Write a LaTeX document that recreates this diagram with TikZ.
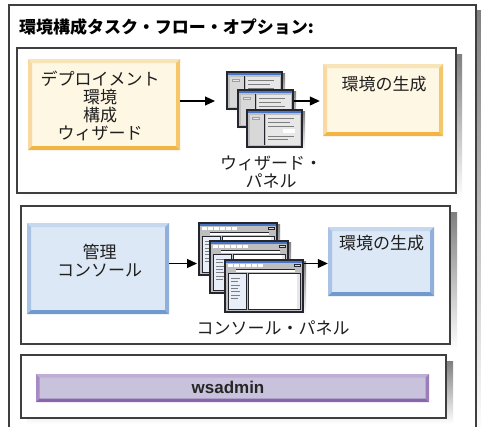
\documentclass[tikz,border=0pt]{standalone}
\usepackage{fontspec}
\setmainfont{Noto Sans CJK JP}
\newfontfamily\latinsans{Liberation Sans}
\usetikzlibrary{arrows.meta}

\definecolor{framegray}{HTML}{3F3F3F}
\definecolor{shade}{HTML}{CACACA}
\definecolor{creamfill}{HTML}{FEF7E3}
\definecolor{ytop}{HTML}{F8E4B9}
\definecolor{yleft}{HTML}{F9D9A0}
\definecolor{yright}{HTML}{F6C66B}
\definecolor{ybottom}{HTML}{F2B445}
\definecolor{bluefill}{HTML}{DCE8F5}
\definecolor{btop}{HTML}{C6D8EE}
\definecolor{bleft}{HTML}{A8C3E6}
\definecolor{bright}{HTML}{90AFDB}
\definecolor{bbottom}{HTML}{7099CF}
\definecolor{purplefill}{HTML}{C8C2DC}
\definecolor{ptop}{HTML}{BEAED4}
\definecolor{pleft}{HTML}{A88AC4}
\definecolor{pright}{HTML}{9A7DB9}
\definecolor{pbottom}{HTML}{8866AA}
\definecolor{winedge}{HTML}{25252D}
\definecolor{titleblue}{HTML}{4674C6}
\definecolor{winbody}{HTML}{BEBEBE}
\definecolor{paneA}{HTML}{D8D8D8}
\definecolor{paneB}{HTML}{E7E7E7}
\definecolor{rulegray}{HTML}{7E7E7E}
\definecolor{listblue}{HTML}{E8EFF8}

\tikzset{
  % rectangle with a four-sided bevelled rim
  bevelbox/.style n args={6}{
    shape=rectangle, inner sep=0pt, fill=#6,
    path picture={
      \path[fill=#2] (path picture bounding box.north west) -- (path picture bounding box.north east)
        -- ([xshift=-#1,yshift=-#1]path picture bounding box.north east)
        -- ([xshift=#1,yshift=-#1]path picture bounding box.north west) -- cycle;
      \path[fill=#3] (path picture bounding box.north west) -- ([xshift=#1,yshift=-#1]path picture bounding box.north west)
        -- ([xshift=#1,yshift=#1]path picture bounding box.south west) -- (path picture bounding box.south west) -- cycle;
      \path[fill=#4] (path picture bounding box.north east) -- ([xshift=-#1,yshift=-#1]path picture bounding box.north east)
        -- ([xshift=-#1,yshift=#1]path picture bounding box.south east) -- (path picture bounding box.south east) -- cycle;
      \path[fill=#5] (path picture bounding box.south west) -- ([xshift=#1,yshift=#1]path picture bounding box.south west)
        -- ([xshift=-#1,yshift=#1]path picture bounding box.south east) -- (path picture bounding box.south east) -- cycle;
    }
  },
  yellowbox/.style={bevelbox={4pt}{ytop}{yleft}{yright}{ybottom}{creamfill}},
  bluebox/.style={bevelbox={4pt}{btop}{bleft}{bright}{bbottom}{bluefill}},
  purplebox/.style={bevelbox={3.5pt}{ptop}{pleft}{pright}{pbottom}{purplefill}},
  panel/.style={draw=framegray, line width=1.3pt, fill=white, inner sep=0pt},
  jtext/.style={font=\fontsize{17}{18}\selectfont, align=center, inner sep=0pt, text=black!88},
  arr/.style={draw=black, line width=1.2pt, -{Triangle[length=10pt,width=9pt]}},
  % small wizard dialog
  wizwin/.pic={
    \fill[shade] (2,2) rectangle (59,41);
    \fill[winedge] (0,0) rectangle (57,39);
    \fill[titleblue] (1.6,1.6) rectangle (55.4,3.8);
    \fill[winbody] (1.6,3.8) rectangle (55.4,37.4);
    \fill[paneA] (3.5,5.5) rectangle (17.5,35.5);
    \fill[winedge] (18.2,5) rectangle (19.4,36);
    \fill[paneB] (20,5.5) rectangle (53.5,35.5);
    \fill[rulegray!75] (6,7.5) rectangle (13.5,11);
    \fill[paneB] (7,8.8) rectangle (12.5,9.6);
    \foreach \yy/\len in {9/26,13.3/22,17.3/26,27.3/26,30.7/20}
      \draw[rulegray, line width=0.7pt] (22,\yy) -- (22+\len,\yy);
    \fill[#1] (37,20.3) rectangle (49,23.5);
    \path (0,0) coordinate (-nw) (57,39) coordinate (-se);
  },
  % small console window
  conwin/.pic={
    \fill[shade] (2,2) rectangle (82,56);
    \fill[winedge] (0,0) rectangle (80,54);
    \fill[titleblue] (1.8,1.8) rectangle (78.2,3.8);
    \fill[winbody] (1.8,3.8) rectangle (78.2,52.2);
    \foreach \i in {0,...,5}
      \fill[white] (4+6*\i,5.3) rectangle (8.5+6*\i,8);
    \fill[winedge] (70,4.5) rectangle (77,8.3);
    \fill[paneA] (71,5.6) rectangle (76,6.6);
    \fill[white] (12,10) rectangle (71,12.6);
    \draw[winedge, line width=0.6pt] (12,10) -- (71,10);
    \filldraw[fill=listblue, draw=winedge, line width=0.8pt] (4,14.5) rectangle (22.5,50.5);
    \foreach \yy/\len in {19.3/9,22.7/7,26/9,29.3/7,32.7/9,36.7/9,39.3/7}
      \draw[rulegray, line width=0.7pt] (7,\yy) -- (7+\len,\yy);
    \filldraw[fill=white, draw=winedge, line width=0.8pt] (24,14.5) rectangle (76,50.5);
    \fill[paneB] (73,15) rectangle (75.6,50);
    \path (0,0) coordinate (-nw) (80,54) coordinate (-se);
  },
}

\begin{document}
\begin{tikzpicture}[x=1pt,y=-1pt]
\useasboundingbox (0,0) rectangle (481,426);
\clip (0,0) rectangle (481,426);
\fill[white] (0,0) rectangle (481,426);

% outer frame with its shadow
\fill[shade] (477,10) rectangle (481,440);
\draw[framegray, line width=1.3pt, fill=white] (9,5) rectangle (476,445);
\node[anchor=west, inner sep=0pt, font=\fontsize{17}{18}\selectfont\bfseries] (title) at (19,27)
  {環境構成タスク・フロー・オプション:};

% panel shadows
\fill[shade] (23,54) rectangle (462,199);
\fill[shade] (27,212) rectangle (457,350);
\fill[shade] (27,361) rectangle (453,424);

% panels
\node[panel, minimum width=439pt, minimum height=145pt] (p1) at (236.5,120.5) {};
\node[panel, minimum width=429pt, minimum height=138pt] (p2) at (235.5,275) {};
\node[panel, minimum width=425pt, minimum height=63pt] (p3) at (233.5,386.5) {};

% row reference heights for the arrows
\coordinate (rowA) at (0,101);
\coordinate (rowB) at (0,263.5);

% wizard path
\node[yellowbox, minimum width=152pt, minimum height=91pt] (cfgwiz) at (104,104.5) {};
\node[jtext] (cfgwiztext) at (100,105.5) {デプロイメント\\環境\\構成\\ウィザード};
\node[yellowbox, minimum width=120pt, minimum height=72pt] (gen1) at (383,100) {};
\node[jtext] (gen1text) at (384,84) {環境の生成};

\pic (wz1) at (226,71) {wizwin=paneB};
\pic (wz2) at (237,89) {wizwin=paneB};
\pic (wz3) at (246,109) {wizwin=white};
\node[jtext] (wizlabel) at (271,172) {ウィザード・\\パネル};

\draw[arr, shorten >=11pt] (cfgwiz.east |- rowA) -- (wz1-nw |- rowA);
\draw[arr, shorten >=3pt] (wz2-se |- rowA) -- (gen1.west |- rowA);

% console path
\node[bluebox, minimum width=142pt, minimum height=91pt] (admcon) at (98,268.5) {};
\node[jtext] (admcontext) at (99.5,261) {管理\\コンソール};
\node[bluebox, minimum width=106pt, minimum height=69pt] (gen2) at (381,261.5) {};
\node[jtext] (gen2text) at (381.5,243) {環境の生成};

\pic (cw1) at (198,222) {conwin};
\pic (cw2) at (209,240) {conwin};
\pic (cw3) at (224,259) {conwin};
\node[jtext] (conlabel) at (273,328) {コンソール・パネル};

\draw[arr, shorten >=1pt] (admcon.east |- rowB) -- (cw1-nw |- rowB);
\draw[arr] (cw3-se |- rowB) -- (gen2.west |- rowB);

% scripting path
\node[purplebox, minimum width=393pt, minimum height=28pt] (wsbar) at (232.5,388) {};
\node[inner sep=0pt, font=\latinsans\bfseries\fontsize{17}{18}\selectfont, text=black!85] (wstext) at (228,387) {wsadmin};
\end{tikzpicture}
\end{document}
